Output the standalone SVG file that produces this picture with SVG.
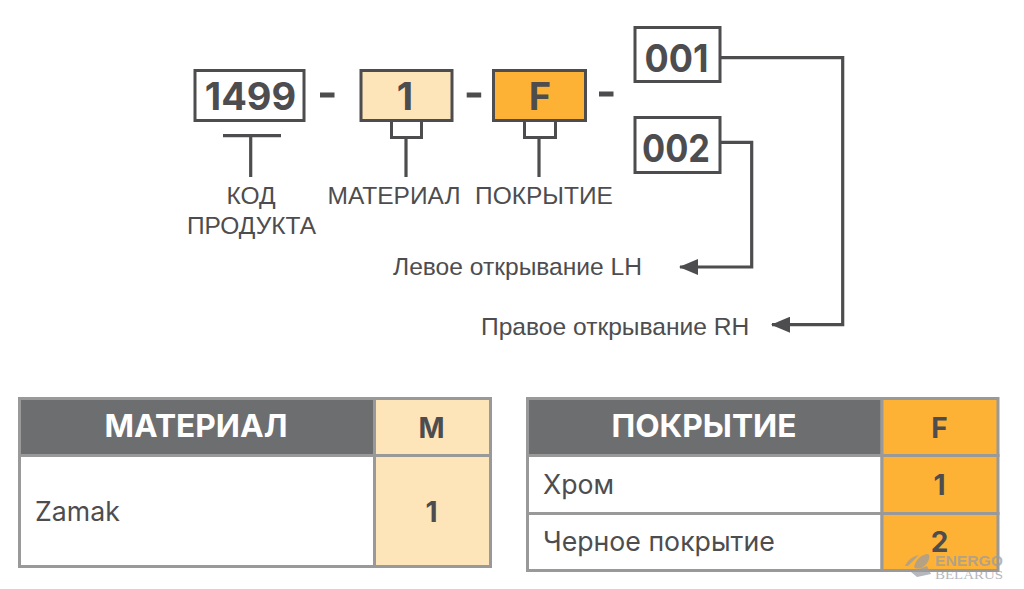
<svg xmlns="http://www.w3.org/2000/svg" width="1024" height="589" viewBox="0 0 1024 589">
<style>
text{font-family:"Liberation Sans",Arial,sans-serif;fill:#4d4d4f}
.code{font-family:Inter,"Open Sans",sans-serif;font-weight:700;font-size:38px;text-anchor:middle}
.box{stroke:#4d4d4f;stroke-width:3;fill:#fff}
.ln{stroke:#4d4d4f;stroke-width:3.200;fill:none}
.lab{font-size:24.500px;text-anchor:middle}
.sub{font-size:24.600px}
.cell{stroke:#999;stroke-width:3}
.head{font-family:Inter,"Open Sans",sans-serif;font-weight:700;font-size:31.700px;text-anchor:middle;fill:#fff}
.val{font-family:Inter,"Open Sans",sans-serif;font-weight:700;font-size:28px;text-anchor:middle}
.row{font-family:Inter,"Open Sans",sans-serif;font-size:26.700px}
</style>
<defs><marker id="ah" markerUnits="userSpaceOnUse" markerWidth="19" markerHeight="16" refX="18" refY="8" orient="auto"><path d="M0 0L19 8L0 16Z" fill="#4d4d4f"/></marker></defs>
<g id="connectors">
<path class="ln" d="M250.700 135V177M223 135.700H281"/>
<path class="ln" d="M406 138V177"/>
<path class="ln" d="M539 138V177"/>
<path class="ln" d="M720 57.700H842.700V324.700H772" marker-end="url(#ah)"/>
<path class="ln" d="M720 142.300H751.700V267H680" marker-end="url(#ah)"/>
</g>
<g id="node-1499"><rect class="box" x="195" y="70.500" width="109" height="50"/><text class="code" x="250.500" y="110">1499</text></g>
<g id="dash-1"><rect x="320" y="92.500" width="14.500" height="5" fill="#4d4d4f"/></g>
<g id="node-1"><rect class="box" x="361" y="70.500" width="91" height="50" style="fill:#fee4b9"/><rect class="box" x="391.500" y="120.500" width="30" height="17"/><text class="code" x="405" y="110">1</text></g>
<g id="dash-2"><rect x="466.700" y="92.500" width="14.500" height="5" fill="#4d4d4f"/></g>
<g id="node-F"><rect class="box" x="493.500" y="70.500" width="92" height="50" style="fill:#feb235"/><rect class="box" x="524.500" y="120.500" width="31" height="17"/><text class="code" x="540" y="110">F</text></g>
<g id="dash-3"><rect x="599" y="91.500" width="14.500" height="5" fill="#4d4d4f"/></g>
<g id="node-001"><rect class="box" x="635" y="27.500" width="85" height="54"/><text class="code" x="676.500" y="72" textLength="64" lengthAdjust="spacingAndGlyphs">001</text></g>
<g id="node-002"><rect class="box" x="635" y="117.500" width="85" height="55"/><text class="code" x="676" y="162" textLength="68" lengthAdjust="spacingAndGlyphs">002</text></g>
<g id="labels">
<text class="lab" x="251" y="204">КОД</text>
<text class="lab" x="251.500" y="234">ПРОДУКТА</text>
<text class="lab" x="394" y="204">МАТЕРИАЛ</text>
<text class="lab" x="544" y="204">ПОКРЫТИЕ</text>
<text class="sub" x="393" y="275">Левое открывание LH</text>
<text class="sub" x="481" y="335">Правое открывание RH</text>
</g>
<g id="table-material">
<rect class="cell" x="19.500" y="398.500" width="355" height="57" fill="#6d6e70"/>
<rect class="cell" x="374.500" y="398.500" width="116" height="57" fill="#fee4b9"/>
<rect class="cell" x="19.500" y="455.500" width="355" height="111" fill="#fff"/>
<rect class="cell" x="374.500" y="455.500" width="116" height="111" fill="#fee4b9"/>
<text class="head" x="196" y="437">МАТЕРИАЛ</text>
<text class="val" x="431.500" y="438">М</text>
<text class="row" x="35" y="521">Zamak</text>
<text class="val" x="431.500" y="522">1</text>
</g>
<g id="table-coating">
<rect class="cell" x="527.500" y="398.500" width="354.500" height="57" fill="#6d6e70"/>
<rect class="cell" x="882" y="398.500" width="116" height="57" fill="#feb235"/>
<rect class="cell" x="527.500" y="455.500" width="354.500" height="58" fill="#fff"/>
<rect class="cell" x="882" y="455.500" width="116" height="58" fill="#feb235"/>
<rect class="cell" x="527.500" y="513.500" width="354.500" height="57" fill="#fff"/>
<rect class="cell" x="882" y="513.500" width="116" height="57" fill="#feb235"/>
<text class="head" x="704" y="437">ПОКРЫТИЕ</text>
<text class="val" x="939.500" y="438">F</text>
<text class="row" x="543" y="494">Хром</text>
<text class="val" x="939.500" y="495">1</text>
<text class="row" x="543" y="551">Черное покрытие</text>
<text class="val" x="939.500" y="552">2</text>
</g>
<g id="watermark" opacity="0.72">
<path d="M905 566C908 559 914 556 919 555L908 566Z" fill="#9a9da3"/>
<path d="M914 567C916 559 922 554 928 554C931 555 929 563 923 567C920 569 915 569 914 567Z" fill="#9a9da3"/>
<path d="M911 572L927 566L931 574L917 577Z" fill="#9a9da3"/>
<text x="935" y="565.500" style="font-size:15px;font-weight:700;fill:#9a9da3" textLength="68" lengthAdjust="spacingAndGlyphs">ENERGO</text>
<text x="935" y="579" style="font-family:'Liberation Serif',serif;font-size:11.500px;fill:#9a9da3" textLength="68" lengthAdjust="spacingAndGlyphs">BELARUS</text>
</g>
</svg>
